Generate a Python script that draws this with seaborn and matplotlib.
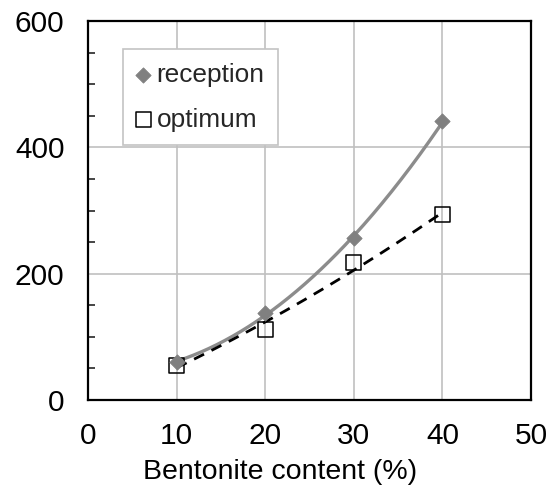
import numpy as np
import pandas as pd
import seaborn as sns
import matplotlib.pyplot as plt

# bentonite content (%) and the two measured series
bentonite = [10, 20, 30, 40]
reception = [60, 138, 256, 441]
optimum = [55, 112, 217, 293]

sns.set_theme(style="white")
plt.rcParams['font.family'] = ['Liberation Sans', 'DejaVu Sans']

df = pd.DataFrame({'x': bentonite, 'reception': reception, 'optimum': optimum})

# quadratic trendlines like a spreadsheet would draw
xs = np.linspace(min(bentonite), max(bentonite), 200)
fit_rec = np.polyval(np.polyfit(bentonite, reception, 2), xs)
fit_opt = np.polyval(np.polyfit(bentonite, optimum, 2), xs)

fig = plt.figure(figsize=(5.55, 4.87), dpi=100)
ax = fig.add_axes([0.1586, 0.1786, 0.7982, 0.7783])

sns.lineplot(x=xs, y=fit_rec, ax=ax, color='#8c8c8c', lw=2.4, zorder=2)
sns.lineplot(x=xs, y=fit_opt, ax=ax, color='black', lw=2.0, zorder=3,
             linestyle=(0, (4, 3)))
sns.scatterplot(data=df, x='x', y='optimum', ax=ax, marker='s', s=115,
                facecolor='none', edgecolor='black', linewidth=1.1, zorder=4,
                label='optimum')
sns.scatterplot(data=df, x='x', y='reception', ax=ax, marker='D', s=60,
                color='#808080', edgecolor='#808080', zorder=5, label='reception')

ax.set_xlim(0, 50)
ax.set_ylim(0, 600)
ax.set_xticks([0, 10, 20, 30, 40, 50])
ax.set_yticks([0, 200, 400, 600])
ax.set_yticks([50, 100, 150, 250, 300, 350, 450, 500, 550], minor=True)
ax.grid(True, which='major', color='#c0c0c0', lw=1.2)
ax.set_axisbelow(True)
for s in ax.spines.values():
    s.set_color('black')
    s.set_linewidth(1.6)
ax.tick_params(axis='both', which='major', direction='out', length=6, width=1.4,
               labelsize=21.5, colors='black')
ax.tick_params(axis='y', which='major', pad=11)
ax.tick_params(axis='x', which='major', pad=10)
ax.tick_params(axis='y', which='minor', direction='in', length=5, width=1.2,
               left=True)
ax.set_xlabel('Bentonite content (%)', fontsize=20.5, color='black', va='center')
ax.xaxis.set_label_coords(0.433, -0.19)
ax.set_ylabel('')

handles, labels = ax.get_legend_handles_labels()
order = [labels.index('reception'), labels.index('optimum')]
leg = ax.legend([handles[i] for i in order], [labels[i] for i in order],
                loc='upper left', bbox_to_anchor=(0.079, 0.925), fontsize=18.9,
                frameon=True, fancybox=False, handletextpad=0.23,
                labelspacing=0.8, borderpad=0.5, handlelength=0.55,
                borderaxespad=0)
leg.get_frame().set_edgecolor('#c4c4c4')
leg.get_frame().set_linewidth(1.2)
leg.get_frame().set_alpha(1)

fig.savefig('out.png', dpi=100)
